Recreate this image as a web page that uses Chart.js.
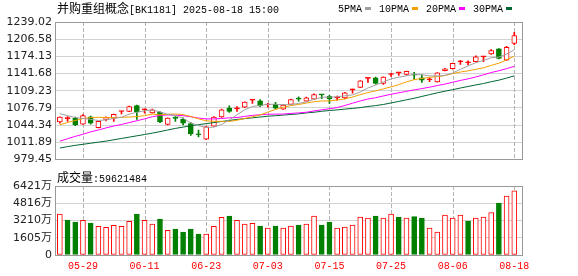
<!DOCTYPE html>
<html>
<head>
<meta charset="utf-8">
<title>并购重组概念[BK1181]</title>
<script src="https://cdn.jsdelivr.net/npm/chart.js@4.4.1/dist/chart.umd.min.js"></script>
<style>
    html, body { margin: 0; padding: 0; background: #fff; }
    #wrap { position: relative; width: 578px; height: 276px; overflow: hidden; }
    #wrap canvas { position: absolute; left: 0; }
    #kline { top: 0; }
    #vol { top: 170px; }
    .cap { position: absolute; white-space: nowrap; color: #000; line-height: 14px; }
    .cn { font: 12px "Noto Sans CJK SC", sans-serif; }
    .mono { font: 10px "Liberation Mono", "DejaVu Sans Mono", monospace; }
    #title { left: 57px; top: -1px; }
    #legend { left: 338px; top: 4px; }
    #legend i { display: inline-block; width: 6px; height: 3px; margin: 0 8px 1px 3px; vertical-align: middle; }
    #voltitle { left: 57px; top: 168px; }
</style>
</head>
<body>
<div id="wrap">
    <canvas id="kline" width="578" height="170"></canvas>
    <canvas id="vol" width="578" height="106"></canvas>
    <div id="title" class="cap"><span class="cn">并购重组概念</span><span class="mono">[BK1181] 2025-08-18 15:00</span></div>
    <div id="legend" class="cap mono"></div>
    <div id="voltitle" class="cap"><span class="cn">成交量</span><span class="mono">:59621484</span></div>
</div>
<script>
/* K-line (daily) + moving averages + volume, drawn with Chart.js floating bars */

var dates = ['05-26','05-27','05-28','05-29','05-30','06-03','06-04','06-05','06-06','06-09',
    '06-10','06-11','06-12','06-13','06-16','06-17','06-18','06-19','06-20','06-23',
    '06-24','06-25','06-26','06-27','06-30','07-01','07-02','07-03','07-04','07-07',
    '07-08','07-09','07-10','07-11','07-14','07-15','07-16','07-17','07-18','07-21',
    '07-22','07-23','07-24','07-25','07-28','07-29','07-30','07-31','08-01','08-04',
    '08-05','08-06','08-07','08-08','08-11','08-12','08-13','08-14','08-15','08-18'];
var tickDates = ['05-29','06-11','06-23','07-03','07-15','07-25','08-06','08-18'];

var opens = [1050.2,1056.6,1056.9,1046.0,1059.9,1039.4,1055.1,1056.9,1070.0,1070.2,
    1081.1,1073.2,1067.2,1068.4,1045.4,1057.3,1055.1,1047.2,1026.3,1017.6,
    1042.4,1059.9,1076.2,1075.0,1078.1,1091.4,1090.2,1082.3,1083.5,1074.4,
    1083.5,1093.5,1089.6,1093.2,1101.7,1098.6,1095.6,1095.6,1110.7,1115.6,
    1132.5,1133.7,1122.8,1139.8,1143.0,1139.8,1138.9,1133.7,1130.0,1125.9,
    1147.0,1150.7,1164.0,1162.0,1164.0,1173.0,1178.5,1188.2,1167.0,1198.5];
var closes = [1059.3,1056.6,1044.8,1062.3,1047.8,1051.4,1058.1,1064.7,1070.0,1079.3,
    1069.0,1073.2,1073.2,1050.2,1057.5,1057.0,1047.8,1027.8,1026.0,1041.2,
    1059.3,1073.2,1070.2,1075.0,1087.7,1091.4,1081.1,1082.3,1076.2,1082.3,
    1092.6,1093.2,1095.6,1101.7,1101.2,1094.4,1095.6,1105.3,1110.7,1127.7,
    1132.5,1122.8,1134.9,1139.8,1143.0,1145.8,1138.6,1128.9,1130.0,1142.8,
    1150.7,1161.0,1164.0,1162.0,1173.1,1173.0,1185.2,1170.0,1191.2,1213.6];
var highs = [1059.8,1060.5,1059.3,1064.1,1061.1,1052.0,1059.9,1065.3,1070.2,1080.0,
    1082.3,1075.0,1074.4,1069.6,1058.1,1060.5,1058.1,1049.0,1035.0,1042.0,
    1060.5,1074.4,1080.5,1079.3,1088.3,1091.8,1092.6,1085.3,1087.1,1083.0,
    1093.2,1097.5,1097.4,1103.5,1102.0,1100.5,1099.2,1106.0,1112.5,1128.3,
    1133.0,1134.9,1135.5,1142.2,1143.4,1146.4,1144.0,1139.8,1133.7,1143.4,
    1151.3,1161.6,1166.4,1165.8,1175.0,1173.4,1187.0,1188.8,1193.0,1219.6];
var lows = [1047.8,1051.0,1043.0,1045.5,1046.0,1038.8,1052.0,1051.0,1065.4,1069.6,
    1055.0,1067.0,1066.6,1049.0,1044.8,1051.4,1044.8,1024.8,1021.8,1016.9,
    1041.8,1058.7,1068.4,1070.2,1077.4,1085.3,1079.3,1078.1,1075.0,1073.8,
    1082.9,1089.6,1089.0,1092.6,1094.4,1085.3,1091.4,1093.5,1104.7,1115.0,
    1124.7,1121.6,1121.0,1136.2,1138.0,1139.2,1130.7,1124.7,1126.5,1125.3,
    1146.4,1150.1,1159.0,1157.9,1163.4,1164.0,1178.0,1169.4,1166.4,1196.0];

var ma5 = [1066,1062,1058.5,1057,1055,1053,1054,1057,1059,1065,
    1068.5,1071.2,1072.9,1069,1064.6,1062.2,1057.1,1048.1,1043.2,1040,
    1040.4,1045.5,1054,1063.8,1073.1,1079.5,1081.1,1083.5,1083.7,1082.7,
    1082.9,1085.3,1088,1093.1,1096.8,1097.2,1097.7,1099.6,1101.4,1106.7,
    1114.4,1119.8,1125.7,1131.5,1134.6,1137.3,1140.4,1139.2,1137.3,1137.2,
    1138.2,1142.7,1149.7,1156.1,1162.2,1166.6,1171.5,1172.7,1178.5,1186.6];
var ma10 = [1045,1049,1053,1056.5,1058.5,1059,1058.5,1058.5,1059,1059.4,
    1060.4,1062.1,1064.9,1063.7,1064.7,1065.2,1064.2,1060.5,1056.1,1052.3,
    1051.3,1051.3,1051.1,1053.5,1056.6,1060,1063.3,1068.8,1073.8,1077.9,
    1081.2,1083.2,1085.8,1088.4,1089.8,1090.1,1091.5,1093.8,1097.3,1101.8,
    1105.8,1108.8,1112.7,1116.5,1120.7,1125.9,1130.1,1132.5,1134.4,1135.9,
    1137.8,1141.6,1144.5,1146.7,1149.7,1152.4,1157.1,1161.2,1167.3,1174.4];
var ma20 = [1014,1018.5,1023,1027,1031.5,1035,1039,1042.5,1045.5,1049,
    1052.5,1056,1060,1062.5,1063.5,1063,1062,1060,1057.5,1055.9,
    1055.9,1056.7,1058,1058.6,1060.7,1062.6,1063.8,1064.7,1065,1065.1,
    1066.3,1067.3,1068.5,1071,1073.2,1075.1,1077.4,1081.3,1085.6,1089.9,
    1093.5,1096,1099.3,1102.5,1105.3,1108,1110.8,1113.2,1115.9,1118.9,
    1121.8,1125.2,1128.6,1131.6,1135.2,1139.2,1143.6,1146.9,1150.9,1155.2];
var ma30 = [1001,1003.5,1006,1008,1010,1012,1014,1016.5,1019,1021.5,
    1024,1026.5,1029,1032,1035,1038,1040.5,1043,1045,1047,
    1049,1051,1053,1055,1056.5,1058,1059.5,1061,1062,1063.2,
    1064.3,1065.5,1067.3,1068.5,1070.4,1071.8,1073,1074.4,1075.7,1077.3,
    1079.4,1081.1,1083.2,1086.1,1089,1092,1095,1098.4,1101.8,1105.2,
    1108.3,1111.2,1114.3,1117.2,1120.1,1122.8,1126.2,1129.2,1133,1137.4];

// volume in 万 (10k)
var vols = [3815,3257,3071,3226,2978,2668,2575,2761,2668,3133,
    3815,3226,2885,3350,2295,2420,2140,2420,1954,1954,
    2668,3505,3629,3226,2885,2947,2699,2513,2699,2513,
    2699,2792,2885,3629,2792,3071,2513,2606,2792,3536,
    3443,3629,3443,3815,3536,3443,3567,3443,2513,2140,
    3722,3443,3722,3164,3443,3536,3940,4839,5491,5962.15];
var volUp = [1,0,0,1,0,1,1,1,1,1, 0,1,1,0,1,0,0,0,0,1,
    1,1,0,1,1,1,0,1,0,1, 1,0,1,1,0,0,1,1,1,1,
    1,0,1,1,0,1,0,0,1,1, 1,1,1,0,1,1,1,0,1,1];

var priceTicks = [979.45,1011.89,1044.34,1076.79,1109.23,1141.68,1174.13,1206.58,1239.02];
var volTicks = [0,1605,3210,4816,6421];
var maNames = ['5PMA','10PMA','20PMA','30PMA'];

(function () {
    'use strict';

    var RED = '#ff0000', GREEN = '#008000';
    var maColors = ['#a0a0a0', '#f4a000', '#ff00ff', '#006633'];
    var NUM_FONT = { family: '"DejaVu Sans", "Noto Sans CJK SC", sans-serif', size: 11 };
    var tickIdx = tickDates.map(function (d) { return dates.indexOf(d); });

    // legend (html)
    var lg = document.getElementById('legend');
    lg.innerHTML = maNames.map(function (n, k) {
        return n + '<i style="background:' + maColors[k] + '"></i>';
    }).join('');

    function xy(arr) { return arr.map(function (v, i) { return { x: i, y: v }; }); }
    function isUp(i) { return closes[i] >= opens[i]; }

    // dashed date lines under the marks, grey frame on top
    function dateLines(chart) {
        var a = chart.chartArea, ctx = chart.ctx, xs = chart.scales.x;
        ctx.save();
        ctx.strokeStyle = '#b4b4b4';
        ctx.lineWidth = 1;
        ctx.setLineDash([4, 2]);
        for (var k = 0; k < tickIdx.length; k++) {
            var px = Math.round(xs.getPixelForValue(tickIdx[k])) + 0.5;
            ctx.beginPath();
            ctx.moveTo(px, a.top);
            ctx.lineTo(px, a.bottom);
            ctx.stroke();
        }
        ctx.restore();
    }

    var framePlugin = {
        id: 'frame',
        beforeDatasetsDraw: function (chart) { dateLines(chart); },
        afterDraw: function (chart) {
            var a = chart.chartArea, ctx = chart.ctx;
            ctx.save();
            ctx.strokeStyle = '#999';
            ctx.lineWidth = 1;
            var x0 = Math.floor(a.left) - 0.5, y0 = Math.floor(a.top) + 0.5;
            var x1 = Math.floor(a.right) + 0.5, y1 = Math.floor(a.bottom) + 0.5;
            ctx.strokeRect(x0, y0, x1 - x0, y1 - y0);
            ctx.restore();
        }
    };

    function xScale(showLabels) {
        return {
            type: 'linear', min: -0.5, max: 60, offset: false,
            afterBuildTicks: function (s) { s.ticks = tickIdx.map(function (i) { return { value: i }; }); },
            afterFit: function (s) { s.height = showLabels ? 21 : 0; },
            grid: { display: true, offset: false, drawTicks: false, color: 'rgba(0,0,0,0)' },
            border: { display: false },
            ticks: {
                display: showLabels, autoSkip: false, maxRotation: 0, padding: 5, color: RED,
                font: { family: '"Liberation Mono", "DejaVu Sans Mono", monospace', size: 10 },
                callback: function (v) { return dates[v]; }
            }
        };
    }

    var priceLines = [ma5, ma10, ma20, ma30].map(function (arr, k) {
        return {
            type: 'line', label: maNames[k], data: xy(arr), borderColor: maColors[k],
            borderWidth: 1, pointRadius: 0, tension: 0, order: 0
        };
    });

    var bodies = {
        type: 'bar', label: 'body',
        data: opens.map(function (o, i) { return { x: i, y: [o, closes[i]] }; }),
        backgroundColor: function (c) {
            var i = c.dataIndex;
            if (!isUp(i)) return GREEN;
            return Math.abs(closes[i] - opens[i]) < 0.5 ? RED : '#ffffff';
        },
        borderColor: function (c) { return isUp(c.dataIndex) ? RED : GREEN; },
        borderWidth: 1, borderSkipped: false, barThickness: 5, minBarLength: 1,
        grouped: false, order: 1
    };

    var wicks = {
        type: 'bar', label: 'wick',
        data: lows.map(function (l, i) { return { x: i, y: [l, highs[i]] }; }),
        backgroundColor: function (c) { return isUp(c.dataIndex) ? RED : GREEN; },
        borderWidth: 0, barThickness: 1, grouped: false, order: 2
    };

    new Chart(document.getElementById('kline'), {
        type: 'bar',
        data: { datasets: priceLines.concat([bodies, wicks]) },
        options: {
            responsive: false, animation: false, events: [],
            layout: { padding: { top: 22, bottom: 5, left: 0, right: 56 } },
            plugins: { legend: { display: false }, tooltip: { enabled: false } },
            scales: {
                x: xScale(false),
                y: {
                    min: priceTicks[0], max: priceTicks[priceTicks.length - 1],
                    afterBuildTicks: function (s) { s.ticks = priceTicks.map(function (v) { return { value: v }; }); },
                    afterFit: function (s) { s.width = 56; },
                    grid: { color: '#d2d2d2', drawTicks: false },
                    border: { display: false },
                    ticks: { padding: 4, color: '#222', font: NUM_FONT, callback: function (v) { return v.toFixed(2); } }
                }
            }
        },
        plugins: [framePlugin]
    });

    new Chart(document.getElementById('vol'), {
        type: 'bar',
        data: {
            datasets: [{
                label: '成交量', data: xy(vols),
                backgroundColor: function (c) { return volUp[c.dataIndex] ? '#ffffff' : GREEN; },
                borderColor: function (c) { return volUp[c.dataIndex] ? RED : GREEN; },
                borderWidth: 1, borderSkipped: false, barThickness: 5
            }]
        },
        options: {
            responsive: false, animation: false, events: [],
            layout: { padding: { top: 16, bottom: 0, left: 0, right: 56 } },
            plugins: { legend: { display: false }, tooltip: { enabled: false } },
            scales: {
                x: xScale(true),
                y: {
                    min: 0, max: volTicks[volTicks.length - 1],
                    afterBuildTicks: function (s) { s.ticks = volTicks.map(function (v) { return { value: v }; }); },
                    afterFit: function (s) { s.width = 56; },
                    grid: { color: '#d2d2d2', drawTicks: false },
                    border: { display: false },
                    ticks: { padding: 4, color: '#222', font: NUM_FONT, callback: function (v) { return v === 0 ? '0' : v + '万'; } }
                }
            }
        },
        plugins: [framePlugin]
    });
})();
</script>
</body>
</html>
